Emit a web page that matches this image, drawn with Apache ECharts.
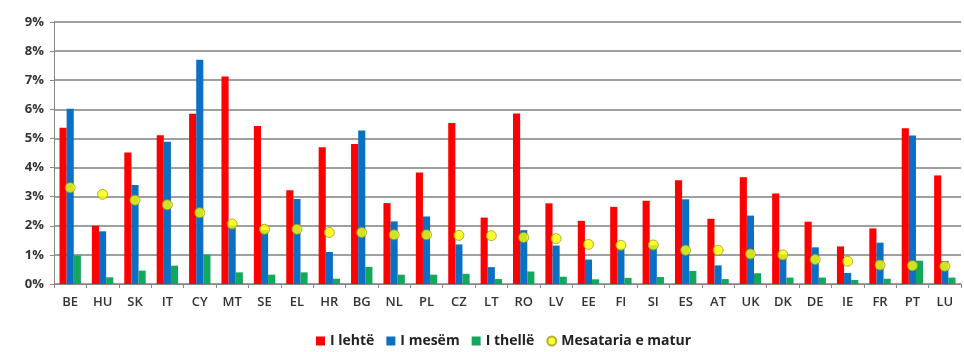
<!DOCTYPE html>
<html>
<head>
<meta charset="utf-8">
<script src="https://cdn.jsdelivr.net/npm/echarts@6/dist/echarts.min.js"></script>
<style>
  html, body { margin: 0; padding: 0; background: #ffffff; }
  #chart { width: 964px; height: 352px; }
</style>
</head>
<body>
<div id="chart"></div>
<script>
// Country codes along the x axis
var countries = ['BE','HU','SK','IT','CY','MT','SE','EL','HR','BG','NL','PL','CZ','LT','RO','LV','EE','FI','SI','ES','AT','UK','DK','DE','IE','FR','PT','LU'];

// Shares (%) by severity
var lehte  = [5.37, 2.00, 4.52, 5.11, 5.85, 7.13, 5.43, 3.22, 4.70, 4.81, 2.78, 3.83, 5.53, 2.28, 5.86, 2.77, 2.17, 2.65, 2.86, 3.56, 2.24, 3.67, 3.11, 2.14, 1.29, 1.91, 5.35, 3.73];
var mesem  = [6.02, 1.81, 3.40, 4.89, 7.70, 2.00, 1.85, 2.92, 1.10, 5.27, 2.15, 2.32, 1.36, 0.58, 1.85, 1.32, 0.84, 1.22, 1.34, 2.91, 0.64, 2.35, 1.00, 1.26, 0.38, 1.42, 5.10, 0.79];
var thelle = [0.98, 0.23, 0.46, 0.63, 1.01, 0.40, 0.32, 0.40, 0.18, 0.59, 0.32, 0.32, 0.35, 0.17, 0.43, 0.25, 0.16, 0.21, 0.24, 0.45, 0.17, 0.37, 0.22, 0.22, 0.14, 0.18, 0.80, 0.22];
// Weighted average
var mesatarja = [3.31, 3.08, 2.88, 2.72, 2.45, 2.06, 1.88, 1.88, 1.77, 1.77, 1.69, 1.69, 1.67, 1.66, 1.60, 1.56, 1.36, 1.33, 1.34, 1.16, 1.16, 1.03, 1.00, 0.84, 0.78, 0.65, 0.63, 0.61];

var seriesNames = ['I lehtë', 'I mesëm', 'I thellë', 'Mesataria e matur'];

var font = '"Open Sans", "DejaVu Sans", sans-serif';
var chart = echarts.init(document.getElementById('chart'), null, { renderer: 'canvas' });

function barSeries(name, data, color) {
  return {
    name: name,
    type: 'bar',
    data: data,
    barGap: '0%',
    barCategoryGap: '34%',
    itemStyle: { color: color },
    animation: false
  };
}

chart.setOption({
  backgroundColor: '#ffffff',
  animation: false,
  grid: { left: 54, right: 3, top: 22, bottom: 68, containLabel: false },
  legend: {
    bottom: -1,
    left: 311,
    itemWidth: 9,
    itemHeight: 9,
    itemGap: 12,
    textStyle: { fontFamily: font, fontSize: 14, fontWeight: 'bold', color: '#222' },
    data: [
      { name: seriesNames[0], icon: 'rect' },
      { name: seriesNames[1], icon: 'rect' },
      { name: seriesNames[2], icon: 'rect' },
      { name: seriesNames[3], icon: 'circle' }
    ]
  },
  xAxis: {
    type: 'category',
    data: countries,
    boundaryGap: true,
    axisLine: { show: true, lineStyle: { color: '#888', width: 1 } },
    axisTick: { show: true, alignWithLabel: false, length: 4, lineStyle: { color: '#888' } },
    axisLabel: { fontFamily: font, fontSize: 13, fontWeight: 600, color: '#333', margin: 12, interval: 0 }
  },
  yAxis: {
    type: 'value',
    min: 0,
    max: 9,
    interval: 1,
    axisLine: { show: true, lineStyle: { color: '#888', width: 1 } },
    axisTick: { show: true, length: 4, lineStyle: { color: '#888' } },
    axisLabel: { fontFamily: font, fontSize: 13, fontWeight: 'bold', color: '#333', margin: 10, formatter: '{value}%' },
    splitLine: { show: true, lineStyle: { color: '#7f7f7f', width: 1.5 } }
  },
  series: [
    barSeries(seriesNames[0], lehte, '#ff0000'),
    barSeries(seriesNames[1], mesem, '#0b6fc4'),
    barSeries(seriesNames[2], thelle, '#13a75c'),
    {
      name: seriesNames[3],
      type: 'scatter',
      data: mesatarja,
      symbol: 'circle',
      symbolSize: 10,
      itemStyle: { color: '#ffff00', borderColor: '#9c9c1e', borderWidth: 1 },
      z: 5
    }
  ]
});
</script>
</body>
</html>
